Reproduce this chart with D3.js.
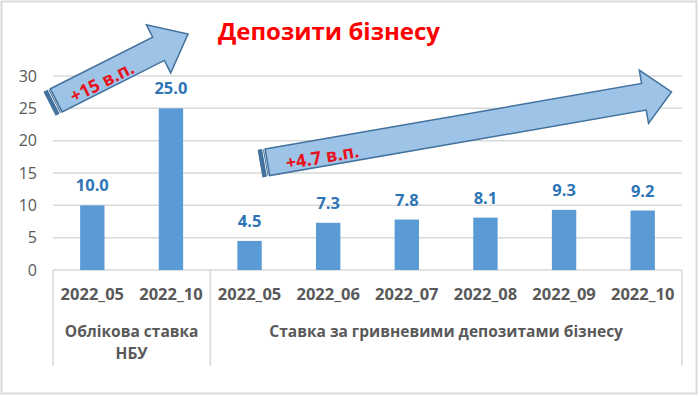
<!DOCTYPE html>
<html>
<head>
<meta charset="utf-8">
<script src="https://cdn.jsdelivr.net/npm/d3@7"></script>
<style>
  body { margin: 0; background: #fff; }
  text { font-family: "Open Sans", "Liberation Sans", sans-serif; }
</style>
</head>
<body>
<script>
// chart data
var months = ["2022_05", "2022_10", "2022_05", "2022_06", "2022_07", "2022_08", "2022_09", "2022_10"];
var values = [10.0, 25.0, 4.5, 7.3, 7.8, 8.1, 9.3, 9.2];
var groups = [
  {lines: ["Облікова ставка", "НБУ"], from: 0, to: 1},
  {lines: ["Ставка за гривневими депозитами бізнесу"], from: 2, to: 7}
];
var yTicks = [0, 5, 10, 15, 20, 25, 30];
var title = "Депозити бізнесу";
var arrowNotes = [
  {label: "+15 в.п.", from: [50, 103.5], to: [188, 34], half: 13, headLen: 33, headHalf: 27, textAt: 56},
  {label: "+4.7 в.п.", from: [260.5, 163.5], to: [671.5, 92], half: 13.5, headLen: 28, headHalf: 27, textAt: 62}
];

var W = 699, H = 396;
var left = 53, right = 682, top0 = 76, bottom = 270;

var svg = d3.select("body").append("svg")
  .attr("width", W)
  .attr("height", H);

// outer frame
svg.append("rect")
  .attr("x", 1.5).attr("y", 1.5)
  .attr("width", W - 4).attr("height", H - 4)
  .attr("fill", "#fff")
  .attr("stroke", "#d9d9d9")
  .attr("stroke-width", 2);

var x = d3.scaleBand()
  .domain(d3.range(months.length))
  .range([left, right])
  .padding(0);

var y = d3.scaleLinear()
  .domain([0, 30])
  .range([bottom, top0]);

// gridlines
svg.append("g").selectAll("line")
  .data(yTicks)
  .enter().append("line")
  .attr("x1", left).attr("x2", right)
  .attr("y1", function(d) { return y(d); })
  .attr("y2", function(d) { return y(d); })
  .attr("stroke", "#d9d9d9")
  .attr("stroke-width", 1.5);

// y axis labels
var yAxis = svg.append("g")
  .attr("transform", "translate(" + (left - 8) + ",0)")
  .call(d3.axisLeft(y).tickValues(yTicks).tickSize(0).tickPadding(8));
yAxis.select(".domain").remove();
yAxis.selectAll("text")
  .attr("fill", "#595959")
  .style("font-size", "16px")
  .style("font-family", "'Open Sans', sans-serif");

// bars
var barW = x.bandwidth() * 0.31;
svg.append("g").selectAll("rect")
  .data(values)
  .enter().append("rect")
  .attr("x", function(d, i) { return x(i) + (x.bandwidth() - barW) / 2; })
  .attr("y", function(d) { return y(d); })
  .attr("width", barW)
  .attr("height", function(d) { return y(0) - y(d); })
  .attr("fill", "#5b9bd5");

// value labels
svg.append("g").selectAll("text")
  .data(values)
  .enter().append("text")
  .attr("x", function(d, i) { return x(i) + x.bandwidth() / 2; })
  .attr("y", function(d) { return y(d) - 14; })
  .attr("text-anchor", "middle")
  .attr("fill", "#2e75b6")
  .style("font-size", "16.5px")
  .style("font-weight", "bold")
  .text(function(d) { return d.toFixed(1); });

// category axis: month labels
svg.append("g").selectAll("text")
  .data(months)
  .enter().append("text")
  .attr("x", function(d, i) { return x(i) + x.bandwidth() / 2; })
  .attr("y", 300)
  .attr("text-anchor", "middle")
  .attr("fill", "#595959")
  .style("font-size", "16.5px")
  .style("font-weight", "bold")
  .text(function(d) { return d; });

// group separators
var seps = [x(0), x(groups[1].from), x(months.length - 1) + x.bandwidth()];
svg.append("g").selectAll("line")
  .data(seps)
  .enter().append("line")
  .attr("x1", function(d) { return d; })
  .attr("x2", function(d) { return d; })
  .attr("y1", bottom)
  .attr("y2", 366)
  .attr("stroke", "#d9d9d9")
  .attr("stroke-width", 1.5);

// group labels
groups.forEach(function(g) {
  var cx = (x(g.from) + x(g.to) + x.bandwidth()) / 2;
  var t = svg.append("text")
    .attr("x", cx)
    .attr("y", 337)
    .attr("text-anchor", "middle")
    .attr("fill", "#595959")
    .style("font-size", "15.5px")
    .style("font-weight", "bold");
  g.lines.forEach(function(line, k) {
    t.append("tspan")
      .attr("x", cx)
      .attr("dy", k === 0 ? 0 : 22)
      .text(line);
  });
});

// title
svg.append("text")
  .attr("x", 329)
  .attr("y", 40)
  .attr("text-anchor", "middle")
  .attr("fill", "#ff0000")
  .style("font-size", "24px")
  .style("font-weight", "bold")
  .text(title);

// striped arrows
arrowNotes.forEach(function(a) {
  var dx = a.to[0] - a.from[0], dy = a.to[1] - a.from[1];
  var len = Math.sqrt(dx * dx + dy * dy);
  var ang = Math.atan2(dy, dx) * 180 / Math.PI;
  var g = svg.append("g")
    .attr("transform", "translate(" + a.from[0] + "," + a.from[1] + ") rotate(" + ang + ")");
  var neck = len - a.headLen;
  var pts = [
    [7, -a.half], [neck, -a.half], [neck, -a.headHalf], [len, 0],
    [neck, a.headHalf], [neck, a.half], [7, a.half]
  ];
  g.append("rect")
    .attr("x", 0).attr("y", -a.half)
    .attr("width", 3.5).attr("height", a.half * 2)
    .attr("fill", "#41719c")
    .attr("stroke", "#41719c")
    .attr("stroke-width", 1);
  g.append("rect")
    .attr("x", 4.8).attr("y", -a.half)
    .attr("width", 1).attr("height", a.half * 2)
    .attr("fill", "#41719c");
  g.append("path")
    .attr("d", d3.line()(pts) + "Z")
    .attr("fill", "#9dc3e6")
    .attr("stroke", "#41719c")
    .attr("stroke-width", 1.5)
    .attr("stroke-linejoin", "miter");
  g.append("text")
    .attr("x", a.textAt)
    .attr("y", 3.5)
    .attr("text-anchor", "middle")
    .attr("dominant-baseline", "central")
    .attr("fill", "#e8101a")
    .style("font-size", "18px")
    .style("font-weight", "bold")
    .text(a.label);
});
</script>
</body>
</html>
